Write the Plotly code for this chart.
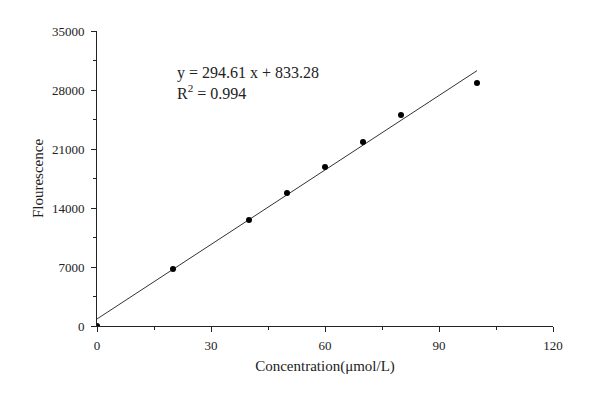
import plotly.graph_objects as go

conc = [0, 20, 40, 50, 60, 70, 80, 100]
fluor = [0, 6760, 12580, 15780, 18860, 21830, 25030, 28830]
slope = 294.61
intercept = 833.28
r2 = 0.994
fit_x = [0, 100]
fit_y = [slope * x + intercept for x in fit_x]
x_ticks = [0, 30, 60, 90, 120]
y_ticks = [0, 7000, 14000, 21000, 28000, 35000]
y_ticktext = ["0", "7000", "14000", "21000", "28000", "35000"]

font = "Liberation Serif, Times New Roman, serif"

fig = go.Figure()
fig.add_trace(go.Scatter(x=fit_x, y=fit_y, mode="lines",
                         line=dict(color="#333", width=1), showlegend=False))
fig.add_trace(go.Scatter(x=conc, y=fluor, mode="markers",
                         marker=dict(color="black", size=6), showlegend=False))

fig.add_annotation(x=0.17, y=0.825, xref="paper", yref="paper",
                   text=f"y = {slope} x + {intercept}<br>R<sup>2</sup> = {r2}",
                   showarrow=False, xanchor="left", yanchor="middle", align="left",
                   font=dict(family=font, size=16, color="#222"))

fig.update_layout(
    width=600, height=402,
    margin=dict(l=89, r=55, t=23, b=84),
    paper_bgcolor="white", plot_bgcolor="white",
    font=dict(family=font, size=13, color="#222"),
    xaxis=dict(range=[0, 120], tickvals=x_ticks, showgrid=False, zeroline=False, automargin=False,
               showline=True, linecolor="#222", linewidth=1, ticks="outside", ticklen=5,
               tickcolor="#222", ticklabelstandoff=2,
               minor=dict(tickvals=[15, 45, 75, 105], ticks="outside", ticklen=3, tickcolor="#222"),
               title=dict(text="Concentration(μmol/L)", font=dict(family=font, size=15), standoff=8)),
    yaxis=dict(range=[0, 35000], tickvals=y_ticks, ticktext=y_ticktext, showgrid=False,
               zeroline=False, showline=True, linecolor="#222", linewidth=1, ticks="outside",
               ticklen=5, tickcolor="#222", automargin=False, ticklabelstandoff=4,
               minor=dict(tickvals=[3500, 10500, 17500, 24500, 31500], ticks="outside", ticklen=3,
                          tickcolor="#222"),
               title=dict(text="Flourescence", font=dict(family=font, size=15), standoff=4)),
)
fig.write_html("out.html")
